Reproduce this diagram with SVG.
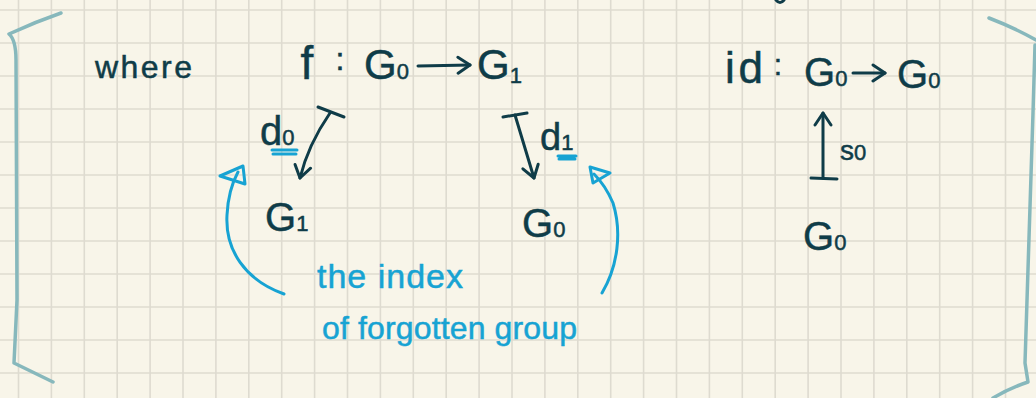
<svg xmlns="http://www.w3.org/2000/svg" width="1036" height="398" viewBox="0 0 1036 398">
<style>
.ink{font-family:"Liberation Sans","DejaVu Sans",sans-serif;fill:#0f3c48;stroke:#0f3c48;stroke-width:0.5}
.blue{font-family:"Liberation Sans","DejaVu Sans",sans-serif;fill:#17a3d3;stroke:#17a3d3;stroke-width:0.5}
.grid{stroke:#dedbd0;stroke-width:1.6;fill:none}
.bracket{stroke:#87b8bc;stroke-width:3.5;fill:none;stroke-linecap:round;stroke-linejoin:round}
.arr{stroke:#0f3c48;stroke-width:3;fill:none;stroke-linecap:round;stroke-linejoin:round}
.barr{stroke:#17a3d3;stroke-width:3;fill:none;stroke-linecap:round;stroke-linejoin:round}
</style>
<defs>
<marker id="vhead" markerUnits="userSpaceOnUse" viewBox="0 0 16 20" refX="14" refY="10" markerWidth="16" markerHeight="20" orient="auto">
<path d="M2,2 L14,10 L2,18" fill="none" stroke="#0f3c48" stroke-width="3" stroke-linecap="round" stroke-linejoin="round"/>
</marker>
</defs>
<rect width="1036" height="398" fill="#f8f5e9"/>
<path class="grid" d="M18.5,0V398M51.4,0V398M84.3,0V398M117.2,0V398M150.1,0V398M183,0V398M215.9,0V398M248.8,0V398M281.7,0V398M314.6,0V398M347.5,0V398M380.4,0V398M413.3,0V398M446.2,0V398M479.1,0V398M512,0V398M544.9,0V398M577.8,0V398M610.7,0V398M643.6,0V398M676.5,0V398M709.4,0V398M742.3,0V398M775.2,0V398M808.1,0V398M841,0V398M873.9,0V398M906.8,0V398M939.7,0V398M972.6,0V398M1005.5,0V398M0,10H1036M0,43H1036M0,76H1036M0,109H1036M0,142H1036M0,175H1036M0,208H1036M0,241H1036M0,274H1036M0,307H1036M0,340H1036M0,373H1036"/>
<g id="brackets">
<path class="bracket" d="M61,13 Q35,22 9,34 Q16,40 16,60 L17,300 L14,363 L53,382"/>
<path class="bracket" d="M989,18 Q1015,28 1036,40 M1035,45 L1033,113 L1025,363 L1028,382 Q1010,388 993,398"/>
</g>
<path class="arr" d="M776,0 Q780,5 784,0"/>
<g id="where"><text class="ink" x="95" y="78" font-size="32" textLength="97" lengthAdjust="spacing">where</text></g>
<g id="f-line">
<text class="ink" x="307" y="79" font-size="46" text-anchor="middle">f</text>
<text class="ink" x="340" y="70" font-size="32" text-anchor="middle">:</text>
</g>
<g id="G0-top"><text class="ink" x="364" y="79" font-size="42">G<tspan font-size="22">0</tspan></text></g>
<g id="G1-top"><text class="ink" x="477" y="79" font-size="42">G<tspan font-size="22" dy="4">1</tspan></text></g>
<g id="G1-bottom"><text class="ink" x="265" y="231" font-size="40">G<tspan font-size="22">1</tspan></text></g>
<g id="G0-bottom"><text class="ink" x="522" y="237" font-size="40">G<tspan font-size="22">0</tspan></text></g>
<g id="id-line">
<text class="ink" x="725" y="83" font-size="44" textLength="38" lengthAdjust="spacing">id</text>
<text class="ink" x="778" y="75" font-size="30" text-anchor="middle">:</text>
</g>
<g id="G0-id-src"><text class="ink" x="804" y="86" font-size="40">G<tspan font-size="22">0</tspan></text></g>
<g id="G0-id-tgt"><text class="ink" x="897" y="88" font-size="40">G<tspan font-size="22">0</tspan></text></g>
<g id="G0-s0"><text class="ink" x="803" y="250" font-size="40">G<tspan font-size="22">0</tspan></text></g>
<g id="labels">
<text class="ink" x="260" y="145" font-size="40">d<tspan font-size="22">0</tspan></text>
<text class="ink" x="540" y="150" font-size="38">d<tspan font-size="22">1</tspan></text>
<text class="ink" x="840" y="160" font-size="28">s<tspan font-size="22">0</tspan></text>
</g>
<g id="note">
<text class="blue" x="317" y="288" font-size="34" textLength="146" lengthAdjust="spacing">the index</text>
<text class="blue" x="322" y="339" font-size="32" textLength="255" lengthAdjust="spacing">of forgotten group</text>
</g>
<g id="connectors">
<path class="arr" d="M418,66 L470,65" marker-end="url(#vhead)"/>
<path class="arr" d="M853,73 L885,73" marker-end="url(#vhead)"/>
<path class="arr" d="M318,107 L344,117"/>
<path class="arr" d="M330,113 Q308,145 300,178" marker-end="url(#vhead)"/>
<path class="arr" d="M503,117 L527,113"/>
<path class="arr" d="M515,115 L534,178" marker-end="url(#vhead)"/>
<path class="arr" d="M811,178 L837,179"/>
<path class="arr" d="M823,178 L823,113" marker-end="url(#vhead)"/>
<path class="barr" d="M272,150 H297 M273,154 H296"/>
<path class="barr" d="M558,156 H576 M559,159 H575"/>
<path class="barr" d="M284,294 C245,280 225,250 227,215 C228,195 232,183 238,172"/>
<polygon class="barr" points="220,176 243,166 245,184"/>
<path class="barr" d="M602,293 C618,266 622,232 613,203 C607,189 600,180 594,174"/>
<polygon class="barr" points="590,167 610,173 593,183"/>
</g>
</svg>
